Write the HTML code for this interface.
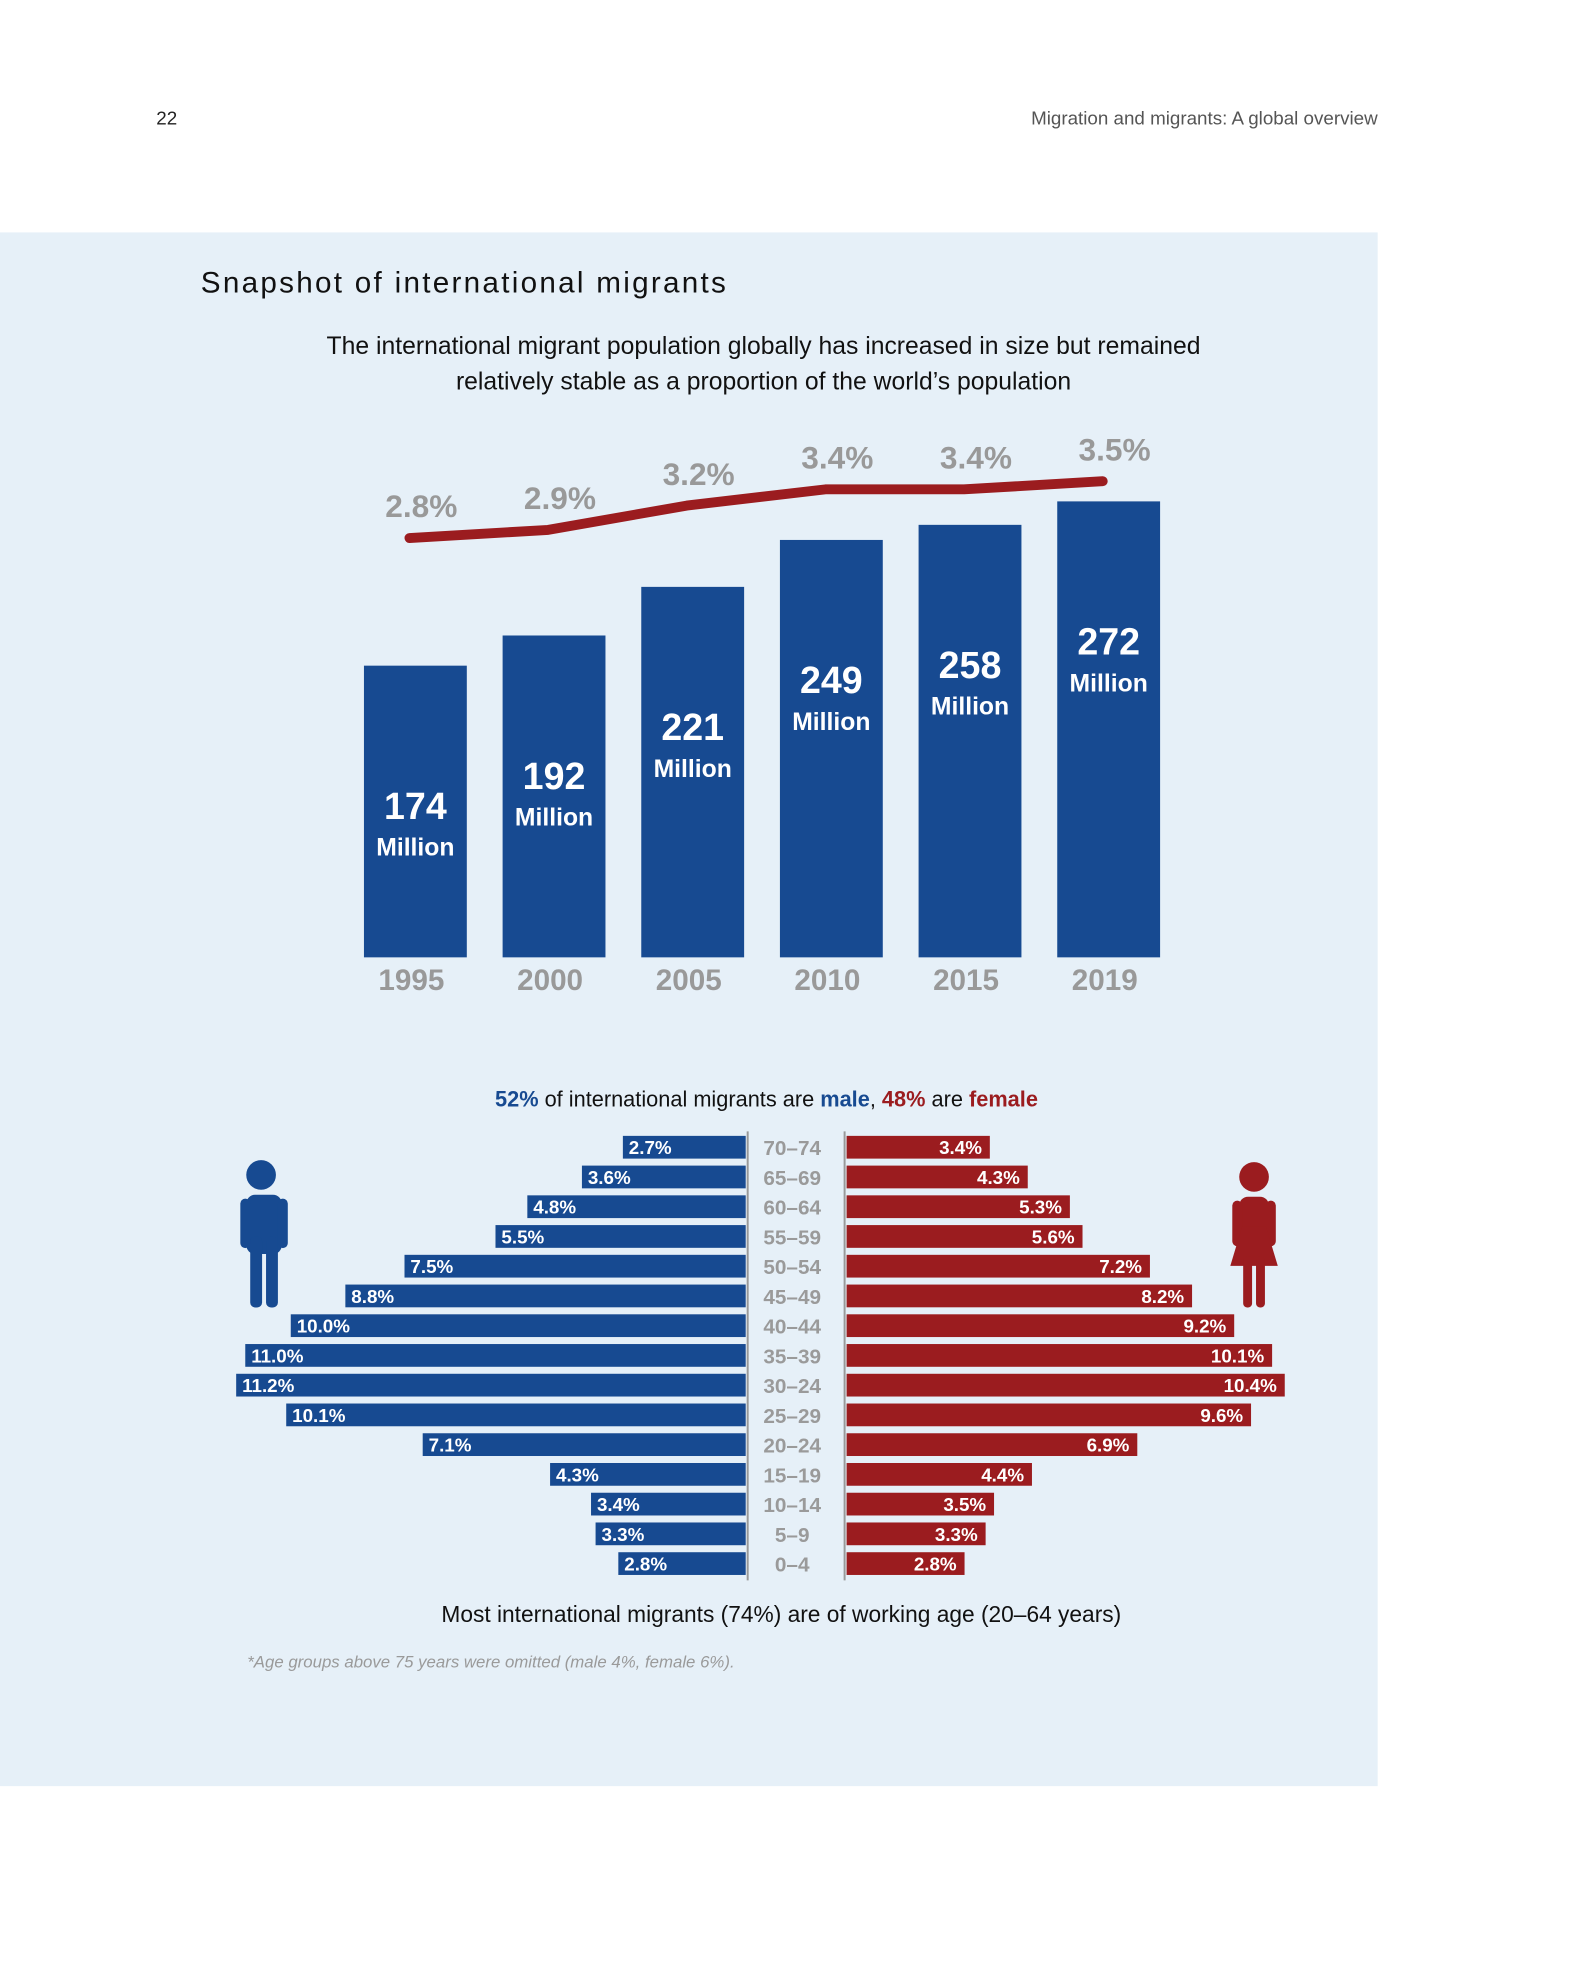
<!DOCTYPE html>
<html><head><meta charset="utf-8">
<style>
html,body{margin:0;padding:0;background:#fff;}
svg{display:block;font-family:"Liberation Sans Narrow","Liberation Sans",sans-serif;}
</style></head>
<body>
<svg id="page" width="1575" height="1969" viewBox="0 0 1575 1969" xmlns="http://www.w3.org/2000/svg">
<g transform="scale(0.989)">
<text x="158" y="126" font-family="Liberation Sans, sans-serif" font-size="19" fill="#222">22</text>
<text x="1393" y="126" text-anchor="end" font-family="Liberation Sans, sans-serif" font-size="19" fill="#555">Migration and migrants: A global overview</text>
<rect x="0" y="235" width="1393" height="1571" fill="#e6f0f8"/>
<text x="203" y="296" font-family="Liberation Sans, sans-serif" font-size="30" letter-spacing="2.3" fill="#111">Snapshot of international migrants</text>
<text x="772" y="358" text-anchor="middle" font-size="25" fill="#111">The international migrant population globally has increased in size but remained</text>
<text x="772" y="394" text-anchor="middle" font-size="25" fill="#111">relatively stable as a proportion of the world’s population</text>
<g id="barchart"></g>
<text x="775" y="1119" text-anchor="middle" font-size="22" fill="#111"><tspan fill="#174a91" font-weight="bold">52%</tspan> of international migrants are <tspan fill="#174a91" font-weight="bold">male</tspan>, <tspan fill="#9b1c1f" font-weight="bold">48%</tspan> are <tspan fill="#9b1c1f" font-weight="bold">female</tspan></text>
<g id="pyramid"></g>
<g fill="#174a91">
<circle cx="264" cy="1188" r="15"/>
<rect x="249" y="1208" width="36" height="60" rx="9"/>
<rect x="243" y="1212" width="10" height="50" rx="5"/>
<rect x="281" y="1212" width="10" height="50" rx="5"/>
<rect x="253" y="1250" width="12" height="72" rx="5"/>
<rect x="269" y="1250" width="12" height="72" rx="5"/>
</g>
<g fill="#9b1c1f">
<circle cx="1268" cy="1190" r="15"/>
<rect x="1253" y="1210" width="30" height="40" rx="9"/>
<rect x="1246" y="1214" width="10" height="46" rx="5"/>
<rect x="1280" y="1214" width="10" height="46" rx="5"/>
<polygon points="1256,1240 1280,1240 1292,1280 1244,1280"/>
<rect x="1257" y="1270" width="9" height="52" rx="4"/>
<rect x="1270" y="1270" width="9" height="52" rx="4"/>
</g>
<text x="790" y="1640" text-anchor="middle" font-size="23" fill="#111">Most international migrants (74%) are of working age (20–64 years)</text>
<text x="250" y="1686" font-size="17" font-style="italic" fill="#9a9a9a">*Age groups above 75 years were omitted (male 4%, female 6%).</text>
</g>
</svg>
<script>
const NS='http://www.w3.org/2000/svg';
const years=['1995','2000','2005','2010','2015','2019'];
const millions=[174,192,221,249,258,272];
const shares=[2.8,2.9,3.2,3.4,3.4,3.5];
const ages=['70–74','65–69','60–64','55–59','50–54','45–49','40–44','35–39','30–24','25–29','20–24','15–19','10–14','5–9','0–4'];
const maleVals=[2.7,3.6,4.8,5.5,7.5,8.8,10.0,11.0,11.2,10.1,7.1,4.3,3.4,3.3,2.8];
const femaleVals=[3.4,4.3,5.3,5.6,7.2,8.2,9.2,10.1,10.4,9.6,6.9,4.4,3.5,3.3,2.8];

function mk(tag,attrs,parent,txt){const e=document.createElementNS(NS,tag);for(const k in attrs)e.setAttribute(k,attrs[k]);if(txt!==undefined)e.textContent=txt;parent.appendChild(e);return e;}

const bc=document.getElementById('barchart');
const barX0=368, barStep=140.2, barW=104, baseY=968;
const yBar=v=>baseY-v*1.695;
const xBar=i=>barX0+i*barStep;
const yLine=v=>544-(v-2.8)*82;
millions.forEach((v,i)=>{
  const r=mk('rect',{x:xBar(i),y:yBar(v),width:barW,height:baseY-yBar(v),fill:'#174a91'},bc);
  
  
  const cx=xBar(i)+barW/2;
  const t=mk('text',{x:cx,y:yBar(v)+155,'text-anchor':'middle','font-size':38,'font-weight':'bold',fill:'#fff'},bc,String(v));
  
  
  const m=mk('text',{x:cx,y:yBar(v)+192,'text-anchor':'middle','font-size':25,'font-weight':'bold',fill:'#fff'},bc,'Million');
  
  
  const yl=mk('text',{x:cx-4,y:1001,'text-anchor':'middle','font-size':30,'font-weight':'bold',fill:'#999'},bc,years[i]);
  
  
});
let d='';
shares.forEach((v,i)=>{const x=xBar(i)+barW/2-6;d+=(i?'L':'M')+x+' '+yLine(v);});
const ln=mk('path',{d:d,fill:'none',stroke:'#9b1c1f','stroke-width':10,'stroke-linecap':'round','stroke-linejoin':'round'},bc);


shares.forEach((v,i)=>{
  const t=mk('text',{x:xBar(i)+barW/2+6,y:yLine(v)-21,'text-anchor':'middle','font-size':32,'font-weight':'bold',fill:'#999'},bc,v.toFixed(1)+'%');
  
  
});

const py=document.getElementById('pyramid');
const mAxis=754,fAxis=856,row0=1160,rowStep=30.07,bh=23;
const xm=v=>mAxis-v*46, xf=v=>fAxis+v*42.6;
const a1=mk('line',{x1:mAxis+2,y1:1144,x2:mAxis+2,y2:1598,stroke:'#999','stroke-width':2},py);


const a2=mk('line',{x1:fAxis-2,y1:1144,x2:fAxis-2,y2:1598,stroke:'#999','stroke-width':2},py);


ages.forEach((a,i)=>{
  const cy=row0+i*rowStep;
  const mb=mk('rect',{x:xm(maleVals[i]),y:cy-bh/2,width:mAxis-xm(maleVals[i]),height:bh,fill:'#174a91'},py);
  
  
  const fb=mk('rect',{x:fAxis,y:cy-bh/2,width:xf(femaleVals[i])-fAxis,height:bh,fill:'#9b1c1f'},py);
  
  
  const ml=mk('text',{x:xm(maleVals[i])+6,y:cy+7,'font-size':19,'font-weight':'bold',fill:'#fff'},py,maleVals[i].toFixed(1)+'%');
  
  
  const fl=mk('text',{x:xf(femaleVals[i])-8,y:cy+7,'text-anchor':'end','font-size':19,'font-weight':'bold',fill:'#fff'},py,femaleVals[i].toFixed(1)+'%');
  
  
  const al=mk('text',{x:801,y:cy+8,'text-anchor':'middle','font-size':21,'font-weight':'bold',fill:'#9a9a9a'},py,a);
  
  
});
</script>
</body></html>
